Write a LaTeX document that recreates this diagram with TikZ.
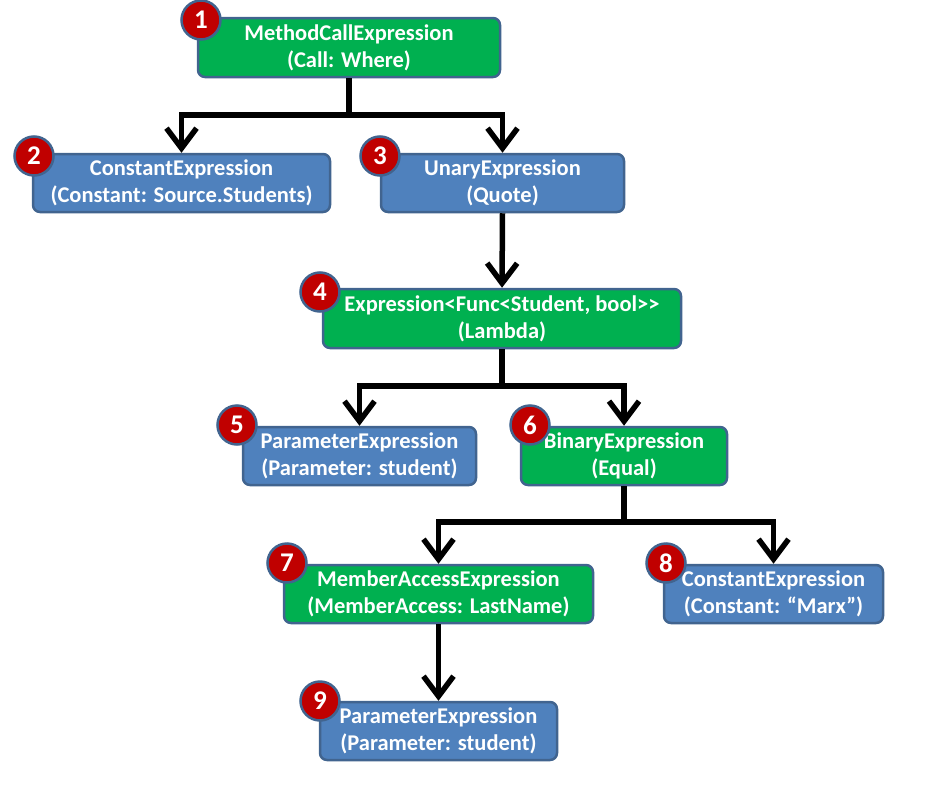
\documentclass[tikz,border=0pt]{standalone}
\usepackage{fontspec}
\setmainfont{Carlito}
\usepackage{tikz}
\usetikzlibrary{arrows.meta}
\usetikzlibrary{positioning}

\definecolor{exgreen}{HTML}{00B050}
\definecolor{exblue}{HTML}{4F81BD}
\definecolor{exedge}{HTML}{41648F}
\definecolor{badgered}{HTML}{C00000}

\begin{document}
\begin{tikzpicture}[x=1pt,y=-1pt,
  expr/.style={rectangle,rounded corners=7pt,draw=exedge,line width=2.5pt,text=white,
    align=center,inner sep=0pt,font=\bfseries\fontsize{22.5}{27}\selectfont},
  gexpr/.style={expr,fill=exgreen},
  bexpr/.style={expr,fill=exblue},
  badge/.style={circle,draw=exedge,line width=2.5pt,fill=badgered,text=white,
    minimum size=39pt,inner sep=0pt,font=\bfseries\fontsize{27}{27}\selectfont},
  arr/.style={line width=5.5pt,-{Straight Barb[length=20pt,width=30pt]}},
  stem/.style={line width=5.5pt}]
\useasboundingbox (0,0) rectangle (943,798);
% expression nodes
\node[gexpr,minimum width=302pt,minimum height=59pt](call) at (349,47.5){MethodCallExpression\\(Call: Where)};
\node[bexpr,minimum width=297pt,minimum height=58pt](src) at (181.5,183){ConstantExpression\\(Constant: Source.Students)};
\node[bexpr,minimum width=243pt,minimum height=58pt](quote) at (502.5,183){UnaryExpression\\(Quote)};
\node[gexpr,minimum width=358pt,minimum height=59pt](lambda) at (502,318.5){Expression<Func<Student, bool>{}>\\(Lambda)};
\node[bexpr,minimum width=233pt,minimum height=58pt](param) at (359.5,456){ParameterExpression\\(Parameter: student)};
\node[gexpr,minimum width=206pt,minimum height=58pt](equal) at (624,456){BinaryExpression\\(Equal)};
\node[gexpr,minimum width=309pt,minimum height=58pt](member) at (438.5,594){MemberAccessExpression\\(MemberAccess: LastName)};
\node[bexpr,minimum width=219pt,minimum height=58pt](marx) at (773.5,594){ConstantExpression\\(Constant: “Marx”)};
\node[bexpr,minimum width=237pt,minimum height=58pt](student) at (438.5,731){ParameterExpression\\(Parameter: student)};
% numbered badges
\node[badge](n1) at (201,20){1};
\node[badge](n2) at (34,156){2};
\node[badge](n3) at (380,156){3};
\node[badge](n4) at (320,292){4};
\node[badge](n5) at (237,425){5};
\node[badge](n6) at (530,425){6};
\node[badge](n7) at (287,563){7};
\node[badge](n8) at (666,563){8};
\node[badge](n9) at (320,701){9};
% connectors
\coordinate (j1) at (349,115);
\coordinate (j4) at (502,386);
\coordinate (j6) at (624,522);
\draw[stem] (call.south) -- (j1);
\draw[arr] (j1) -| (src.north);
\draw[arr] (j1) -| (quote.north);
\draw[arr] (quote.south) -- (lambda.north);
\draw[stem] (lambda.south) -- (j4);
\draw[arr] (j4) -| (param.north);
\draw[arr] (j4) -| (equal.north);
\draw[stem] (equal.south) -- (j6);
\draw[arr] (j6) -| (member.north);
\draw[arr] (j6) -| (marx.north);
\draw[arr] (member.south) -- (student.north);
\end{tikzpicture}
\end{document}
